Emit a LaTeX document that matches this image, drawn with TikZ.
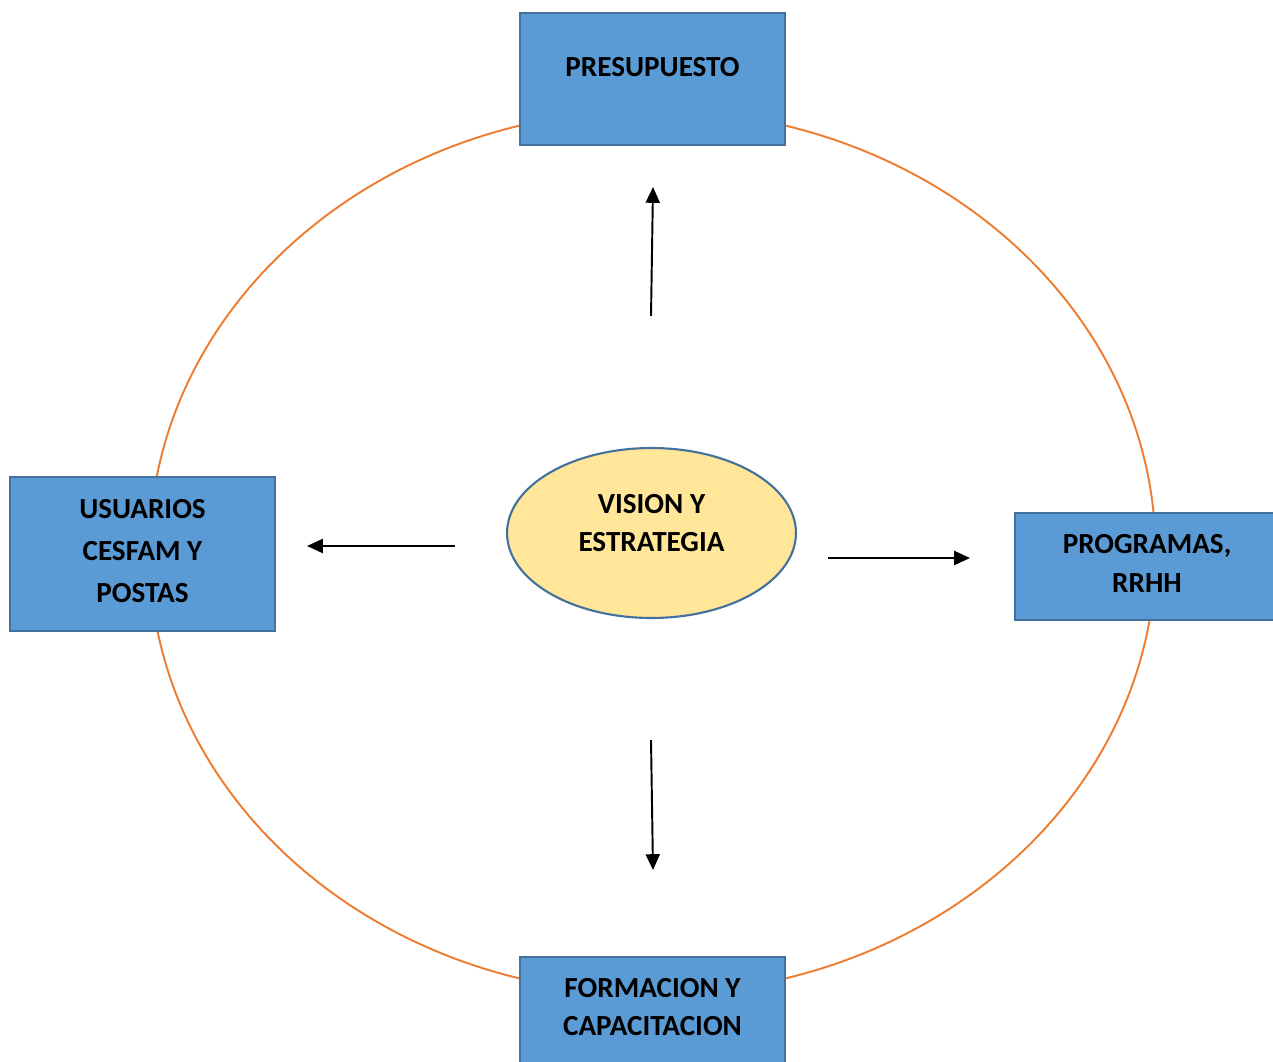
\documentclass[tikz,border=0pt]{standalone}
\usepackage{fontspec}
\setmainfont{Carlito}
\usetikzlibrary{arrows.meta,shapes.geometric}
\definecolor{boxblue}{HTML}{5B9BD5}
\definecolor{boxedge}{HTML}{41719C}
\definecolor{hubfill}{HTML}{FFE699}
\definecolor{ringorange}{HTML}{ED7D31}
\tikzstyle{box}=[rectangle,draw=boxedge,fill=boxblue,line width=1.2pt,align=center,font=\bfseries\fontsize{16.6}{22}\selectfont]
\tikzstyle{hub}=[ellipse,draw=boxedge,fill=hubfill,line width=1.2pt,align=center,inner sep=0pt,font=\bfseries\fontsize{16.6}{22}\selectfont]
\tikzstyle{line}=[draw,line width=1.1pt,-{Triangle[length=9pt,width=8pt]}]
\newcommand{\lowstrut}[1]{\rule[-#1]{0pt}{#1}}

\begin{document}
\begin{tikzpicture}[x=0.02cm,y=-0.02cm]
  \useasboundingbox (0,0) rectangle (1273,1061);
  % ring
  \draw[ringorange,line width=1.1pt] (652.5,552) ellipse [x radius=503,y radius=442];
  % boxes
  \node[box,minimum width=5.3cm,minimum height=2.64cm] (presupuesto) at (652.5,79) {PRESUPUESTO\lowstrut{0.48cm}};
  \node[box,minimum width=5.3cm,minimum height=3.08cm,font=\bfseries\fontsize{16.6}{24}\selectfont] (usuarios) at (142.5,554) {USUARIOS\\CESFAM Y\\POSTAS\lowstrut{0.12cm}};
  \node[box,minimum width=5.28cm,minimum height=2.14cm] (programas) at (1147,566.5) {PROGRAMAS,\\RRHH\lowstrut{0.12cm}};
  \node[box,minimum width=5.3cm,minimum height=2.12cm] (formacion) at (652.5,1010) {FORMACION Y\\CAPACITACION\lowstrut{0.12cm}};
  \node[hub,minimum width=5.78cm,minimum height=3.4cm] (vision) at (651.5,533) {VISION Y\\ESTRATEGIA\lowstrut{0.4cm}};
  % arrows
  \coordinate (upfrom) at (651,316);
  \coordinate (upto) at (653,187);
  \coordinate (leftfrom) at (455,546);
  \coordinate (leftto) at (307,546);
  \coordinate (rightfrom) at (828,558);
  \coordinate (rightto) at (970,558);
  \coordinate (downfrom) at (651,740);
  \coordinate (downto) at (653,870);
  \draw[line] (upfrom) -- (upto);
  \draw[line] (leftfrom) -- (leftto);
  \draw[line] (rightfrom) -- (rightto);
  \draw[line] (downfrom) -- (downto);
\end{tikzpicture}
\end{document}
